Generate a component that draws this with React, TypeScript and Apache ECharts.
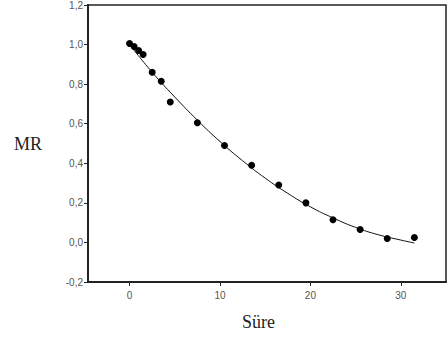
import React, { useEffect, useRef } from "react";
import * as echarts from "echarts";

const timeValues = [0, 0.5, 1, 1.5, 2.5, 3.5, 4.5, 7.5, 10.5, 13.5, 16.5, 19.5, 22.5, 25.5, 28.5, 31.5];
const mrValues = [1.005, 0.99, 0.97, 0.95, 0.86, 0.815, 0.71, 0.605, 0.49, 0.39, 0.29, 0.2, 0.115, 0.065, 0.02, 0.025];
const curveTimes = [0, 2.5, 5, 7.5, 10, 12.5, 15, 17.5, 20, 22.5, 25, 27.5, 30, 31.5];
const curveValues = [1.0, 0.86, 0.735, 0.618, 0.51, 0.413, 0.325, 0.248, 0.18, 0.124, 0.076, 0.039, 0.012, -0.003];
const xTicks = [0, 10, 20, 30];

export default function App() {
  const ref = useRef<HTMLDivElement>(null);
  useEffect(() => {
    if (!ref.current) return;
    const chart = echarts.init(ref.current, null, { renderer: "svg" });
    chart.setOption({
      animation: false,
      backgroundColor: "#ffffff",
      grid: { left: 88, top: 5, right: 2, bottom: 68, show: true, borderColor: "#222", borderWidth: 1.5, backgroundColor: "transparent" },
      xAxis: {
        type: "value",
        min: -4.6,
        max: 35,
        axisLine: { show: true, onZero: false, lineStyle: { color: "#222", width: 2 } },
        axisTick: { show: true, customValues: xTicks, length: 4, lineStyle: { color: "#222" } },
        axisLabel: { customValues: xTicks, color: "#555", fontSize: 10, fontFamily: "Arial, Liberation Sans, sans-serif", margin: 8 },
        splitLine: { show: false },
      },
      yAxis: {
        type: "value",
        min: -0.2,
        max: 1.2,
        interval: 0.2,
        axisLine: { show: true, onZero: false, lineStyle: { color: "#222", width: 2 } },
        axisTick: { show: true, length: 4, lineStyle: { color: "#222" } },
        axisLabel: {
          color: "#555",
          fontSize: 10,
          fontFamily: "Arial, Liberation Sans, sans-serif",
          margin: 5,
          formatter: (v: number) => v.toFixed(1).replace(".", ","),
        },
        splitLine: { show: false },
      },
      graphic: [
        { type: "text", left: 14, top: 135, style: { text: "MR", font: '18px "Liberation Serif", "Times New Roman", serif', fill: "#222" } },
        { type: "text", left: 242, top: 313, style: { text: "Süre", font: '18px "Liberation Serif", "Times New Roman", serif', fill: "#222" } },
      ],
      series: [
        {
          type: "line",
          data: curveTimes.map((t, i) => [t, curveValues[i]]),
          smooth: true,
          showSymbol: false,
          lineStyle: { color: "#111", width: 1 },
          z: 2,
        },
        {
          type: "scatter",
          data: timeValues.map((t, i) => [t, mrValues[i]]),
          symbol: "circle",
          symbolSize: 7,
          itemStyle: { color: "#000", opacity: 1 },
          z: 3,
        },
      ],
    });
    return () => chart.dispose();
  }, []);
  return <div ref={ref} style={{ position: "fixed", left: 0, top: 0, width: 448, height: 350 }} />;
}
